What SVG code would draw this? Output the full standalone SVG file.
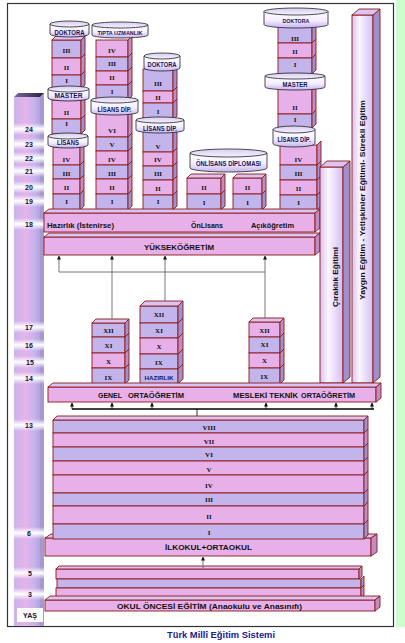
<svg xmlns="http://www.w3.org/2000/svg" width="405" height="643" viewBox="0 0 405 643">
<defs>
<linearGradient id="cg" x1="0" y1="0" x2="0" y2="1"><stop offset="0" stop-color="#ffffff"/><stop offset="0.55" stop-color="#f4eeff"/><stop offset="1" stop-color="#c6b2ee"/></linearGradient>
<linearGradient id="ctp" x1="0" y1="0" x2="0" y2="1"><stop offset="0" stop-color="#d8ccf2"/><stop offset="1" stop-color="#f6f2ff"/></linearGradient>
<linearGradient id="pg" x1="0" y1="0" x2="1" y2="0"><stop offset="0" stop-color="#d8c0f4"/><stop offset="0.35" stop-color="#fcf6ff"/><stop offset="1" stop-color="#d4bef2"/></linearGradient>
<linearGradient id="colg" x1="0" y1="0" x2="1" y2="0"><stop offset="0" stop-color="#c8b4ec"/><stop offset="0.45" stop-color="#e6b4ea"/><stop offset="0.8" stop-color="#c6b2ec"/><stop offset="1" stop-color="#b4a2dc"/></linearGradient>
<linearGradient id="coltop" x1="0" y1="0" x2="1" y2="0"><stop offset="0" stop-color="#7a6a9a"/><stop offset="1" stop-color="#2a2238"/></linearGradient>
<linearGradient id="glow" x1="0" y1="0" x2="0" y2="1"><stop offset="0" stop-color="#ffffff" stop-opacity="0"/><stop offset="0.5" stop-color="#ffffff" stop-opacity="1"/><stop offset="1" stop-color="#ffffff" stop-opacity="0"/></linearGradient>
<marker id="ah" markerWidth="4" markerHeight="4" refX="3.5" refY="2" orient="auto" markerUnits="userSpaceOnUse"><path d="M0,0 L4,2 L0,4 z" fill="#111"/></marker>
<style>
.l{fill:#c4b4ec;stroke:#8b1a1a;stroke-width:0.9}
.p{fill:#e8b0e8;stroke:#8b1a1a;stroke-width:0.9}
.sl{fill:#a290cc;stroke:#8b1a1a;stroke-width:0.9}
.sp{fill:#c08cc4;stroke:#8b1a1a;stroke-width:0.9}
.t{fill:#dcc4f2;stroke:#8b1a1a;stroke-width:0.9}
.pf{fill:url(#pg);stroke:#8b1a1a;stroke-width:0.9}
.cy{fill:url(#cg);stroke:#222;stroke-width:0.8}
.cyt{fill:url(#ctp);stroke:#222;stroke-width:0.8}
.ct{font-family:"Liberation Sans",Arial,sans-serif;font-weight:bold;fill:#14145a;text-anchor:middle}
.r{font-family:"Liberation Serif","Times New Roman",serif;font-weight:bold;font-size:7px;text-anchor:middle;fill:#111}
.b{font-family:"Liberation Sans",Arial,sans-serif;font-weight:bold;font-size:8px;fill:#111}
.m{text-anchor:middle}
.age{font-family:"Liberation Sans",Arial,sans-serif;font-weight:bold;font-size:7px;fill:#101030;text-anchor:middle}
.cn{fill:none;stroke:#555;stroke-width:0.8}
.ck{fill:none;stroke:#000;stroke-width:0.8}
</style>
</defs>
<rect x="396" y="0" width="9" height="627" fill="#ccffcc"/>
<rect x="7.5" y="3.5" width="386" height="623" fill="#ffffff" stroke="#333" stroke-width="1.2"/>

<g id="age-column">
<rect x="14" y="97" width="26" height="529" fill="url(#colg)"/>
<path d="M40,97 l4,-4 v533 h-4 z" fill="#a898d0"/>
<path d="M14,97 l4,-4 h26 l-4,4 z" fill="url(#coltop)"/>
<rect x="14" y="123" width="30" height="12" fill="url(#glow)"/>
<rect x="14" y="138" width="30" height="12" fill="url(#glow)"/>
<rect x="14" y="152" width="30" height="12" fill="url(#glow)"/>
<rect x="14" y="165" width="30" height="12" fill="url(#glow)"/>
<rect x="14" y="181" width="30" height="12" fill="url(#glow)"/>
<rect x="14" y="195" width="30" height="12" fill="url(#glow)"/>
<rect x="14" y="218" width="30" height="12" fill="url(#glow)"/>
<rect x="14" y="321" width="30" height="12" fill="url(#glow)"/>
<rect x="14" y="339" width="30" height="12" fill="url(#glow)"/>
<rect x="14" y="356" width="30" height="12" fill="url(#glow)"/>
<rect x="14" y="372" width="30" height="12" fill="url(#glow)"/>
<rect x="14" y="419" width="30" height="12" fill="url(#glow)"/>
<rect x="14" y="527" width="30" height="12" fill="url(#glow)"/>
<rect x="14" y="567" width="30" height="12" fill="url(#glow)"/>
<rect x="14" y="588" width="30" height="12" fill="url(#glow)"/>
<rect x="17" y="608" width="26" height="14" fill="#ffffff"/>
<text class="age" x="29" y="131.5">24</text>
<text class="age" x="29" y="146.5">23</text>
<text class="age" x="29" y="160.5">22</text>
<text class="age" x="29" y="173.5">21</text>
<text class="age" x="29" y="189.5">20</text>
<text class="age" x="29" y="203.5">19</text>
<text class="age" x="29" y="226.5">18</text>
<text class="age" x="29" y="329.5">17</text>
<text class="age" x="29" y="347.5">16</text>
<text class="age" x="30" y="364.5">15</text>
<text class="age" x="29" y="380.5">14</text>
<text class="age" x="29" y="427.5">13</text>
<text class="age" x="29" y="535.5">6</text>
<text class="age" x="30" y="575.5">5</text>
<text class="age" x="30" y="596.5">3</text>
<text class="age" x="30" y="618">YAŞ</text>
</g>

<g id="col1-stack">
<rect class="l" x="52" y="40" width="29" height="18"/><path class="sl" d="M81,40 l4,-4 v18 l-4,4 z"/>
<rect class="p" x="52" y="58" width="29" height="17"/><path class="sp" d="M81,58 l4,-4 v17 l-4,4 z"/>
<rect class="l" x="52" y="75" width="29" height="14"/><path class="sl" d="M81,75 l4,-4 v14 l-4,4 z"/>
<path class="t" d="M52,40 l4,-4 h29 l-4,4 z"/>
<rect class="p" x="52" y="100" width="29" height="19"/><path class="sp" d="M81,100 l4,-4 v19 l-4,4 z"/>
<rect class="l" x="52" y="119" width="29" height="15"/><path class="sl" d="M81,119 l4,-4 v15 l-4,4 z"/>
<rect class="p" x="53" y="147" width="27" height="18"/><path class="sp" d="M80,147 l4,-4 v18 l-4,4 z"/>
<rect class="l" x="53" y="165" width="27" height="14"/><path class="sl" d="M80,165 l4,-4 v14 l-4,4 z"/>
<rect class="p" x="53" y="179" width="27" height="15"/><path class="sp" d="M80,179 l4,-4 v15 l-4,4 z"/>
<rect class="l" x="53" y="194" width="27" height="16"/><path class="sl" d="M80,194 l4,-4 v16 l-4,4 z"/>
<text class="r" x="66.5" y="52.5">III</text><text class="r" x="66.5" y="69.5">II</text><text class="r" x="66.5" y="83">I</text>
<text class="r" x="66.5" y="114.5">II</text><text class="r" x="66.5" y="125.5">I</text>
<text class="r" x="66.5" y="161.5">IV</text><text class="r" x="66.5" y="175.5">III</text><text class="r" x="66.5" y="189.5">II</text><text class="r" x="66.5" y="203.5">I</text>
</g>

<g id="col2-stack">
<rect class="p" x="96" y="40" width="32" height="17"/><path class="sp" d="M128,40 l4,-4 v17 l-4,4 z"/>
<rect class="l" x="96" y="57" width="32" height="14"/><path class="sl" d="M128,57 l4,-4 v14 l-4,4 z"/>
<rect class="p" x="96" y="71" width="32" height="14"/><path class="sp" d="M128,71 l4,-4 v14 l-4,4 z"/>
<rect class="l" x="96" y="85" width="32" height="15"/><path class="sl" d="M128,85 l4,-4 v15 l-4,4 z"/>
<rect class="p" x="96" y="113" width="32" height="24"/><path class="sp" d="M128,113 l4,-4 v24 l-4,4 z"/>
<rect class="l" x="96" y="137" width="32" height="14"/><path class="sl" d="M128,137 l4,-4 v14 l-4,4 z"/>
<rect class="p" x="96" y="151" width="32" height="14"/><path class="sp" d="M128,151 l4,-4 v14 l-4,4 z"/>
<rect class="l" x="96" y="165" width="32" height="14"/><path class="sl" d="M128,165 l4,-4 v14 l-4,4 z"/>
<rect class="p" x="96" y="179" width="32" height="15"/><path class="sp" d="M128,179 l4,-4 v15 l-4,4 z"/>
<rect class="l" x="96" y="194" width="32" height="16"/><path class="sl" d="M128,194 l4,-4 v16 l-4,4 z"/>
<text class="r" x="112" y="52.5">IV</text><text class="r" x="112" y="65.5">III</text><text class="r" x="112" y="79.5">II</text><text class="r" x="112" y="93.5">I</text>
<text class="r" x="112" y="132.5">VI</text><text class="r" x="112" y="146.5">V</text><text class="r" x="112" y="161.5">IV</text><text class="r" x="112" y="175.5">III</text><text class="r" x="112" y="189.5">II</text><text class="r" x="112" y="203.5">I</text>
</g>

<g id="col3-stack">
<rect class="l" x="143" y="69" width="30" height="22"/><path class="sl" d="M173,69 l4,-4 v22 l-4,4 z"/>
<rect class="p" x="143" y="91" width="30" height="12"/><path class="sp" d="M173,91 l4,-4 v12 l-4,4 z"/>
<rect class="l" x="143" y="103" width="30" height="17"/><path class="sl" d="M173,103 l4,-4 v17 l-4,4 z"/>
<rect class="l" x="143" y="131" width="30" height="21"/><path class="sl" d="M173,131 l4,-4 v21 l-4,4 z"/>
<rect class="p" x="143" y="152" width="30" height="14"/><path class="sp" d="M173,152 l4,-4 v14 l-4,4 z"/>
<rect class="l" x="143" y="166" width="30" height="14"/><path class="sl" d="M173,166 l4,-4 v14 l-4,4 z"/>
<rect class="p" x="143" y="180" width="30" height="15"/><path class="sp" d="M173,180 l4,-4 v15 l-4,4 z"/>
<rect class="l" x="143" y="195" width="30" height="15"/><path class="sl" d="M173,195 l4,-4 v15 l-4,4 z"/>
<text class="r" x="158" y="85.5">III</text><text class="r" x="158" y="99.5">II</text><text class="r" x="158" y="113.5">I</text>
<text class="r" x="158" y="148.5">V</text><text class="r" x="158" y="161.5">IV</text><text class="r" x="158" y="175.5">III</text><text class="r" x="158" y="190.5">II</text><text class="r" x="158" y="203.5">I</text>
</g>

<g id="col4-stack">
<rect class="p" x="187" y="178" width="34" height="16"/><path class="sp" d="M221,178 l4,-4 v16 l-4,4 z"/>
<rect class="l" x="187" y="194" width="34" height="16"/><path class="sl" d="M221,194 l4,-4 v16 l-4,4 z"/>
<path class="t" d="M187,178 l4,-4 h34 l-4,4 z"/>
<text class="r" x="204" y="189.5">II</text><text class="r" x="204" y="204.5">I</text>
</g>
<g id="col5-stack">
<rect class="p" x="233" y="178" width="29" height="16"/><path class="sp" d="M262,178 l4,-4 v16 l-4,4 z"/>
<rect class="l" x="233" y="194" width="29" height="16"/><path class="sl" d="M262,194 l4,-4 v16 l-4,4 z"/>
<path class="t" d="M233,178 l4,-4 h29 l-4,4 z"/>
<text class="r" x="247.5" y="189.5">II</text><text class="r" x="247.5" y="204.5">I</text>
</g>

<g id="col6-stack">
<rect class="l" x="278" y="26" width="34" height="17"/><path class="sl" d="M312,26 l4,-4 v17 l-4,4 z"/>
<rect class="p" x="278" y="43" width="34" height="15"/><path class="sp" d="M312,43 l4,-4 v15 l-4,4 z"/>
<rect class="l" x="278" y="58" width="34" height="16"/><path class="sl" d="M312,58 l4,-4 v16 l-4,4 z"/>
<rect class="p" x="278" y="88" width="34" height="26"/><path class="sp" d="M312,88 l4,-4 v26 l-4,4 z"/>
<rect class="l" x="278" y="114" width="34" height="14"/><path class="sl" d="M312,114 l4,-4 v14 l-4,4 z"/>
<rect class="p" x="280" y="145" width="37" height="20"/><path class="sp" d="M317,145 l4,-4 v20 l-4,4 z"/>
<rect class="l" x="280" y="165" width="37" height="15"/><path class="sl" d="M317,165 l4,-4 v15 l-4,4 z"/>
<rect class="p" x="280" y="180" width="37" height="15"/><path class="sp" d="M317,180 l4,-4 v15 l-4,4 z"/>
<rect class="l" x="280" y="195" width="37" height="15"/><path class="sl" d="M317,195 l4,-4 v15 l-4,4 z"/>
<text class="r" x="295" y="40.5">III</text><text class="r" x="295" y="53.5">II</text><text class="r" x="295" y="66.5">I</text>
<text class="r" x="295" y="109.5">II</text><text class="r" x="295" y="121.5">I</text>
<text class="r" x="298.5" y="161.5">IV</text><text class="r" x="298.5" y="175.5">III</text><text class="r" x="298.5" y="190.5">II</text><text class="r" x="298.5" y="204.5">I</text>
</g>

<g id="cylinders">
<g id="cyl-doktora-1"><path class="cy" d="M50,24 L50,34 A19.5,3 0 0 0 89,34 L89,24 Z"/><ellipse class="cyt" cx="69.5" cy="24" rx="19.5" ry="3"/><text class="ct" x="69.5" y="35" font-size="7.5" textLength="30" lengthAdjust="spacingAndGlyphs">DOKTORA</text></g>
<g id="cyl-tipta"><path class="cy" d="M92,25 L92,35 A28,3 0 0 0 148,35 L148,25 Z"/><ellipse class="cyt" cx="120" cy="25" rx="28" ry="3"/><text class="ct" x="120" y="35" font-size="6" textLength="45" lengthAdjust="spacingAndGlyphs">TIPTA UZMANLIK</text></g>
<g id="cyl-master-1"><path class="cy" d="M48,89 L48,98 A20.5,3 0 0 0 89,98 L89,89 Z"/><ellipse class="cyt" cx="68.5" cy="89" rx="20.5" ry="3"/><text class="ct" x="68.5" y="98" font-size="8" textLength="28" lengthAdjust="spacingAndGlyphs">MASTER</text></g>
<g id="cyl-lisansdip-2"><path class="cy" d="M91,100 L91,112 A23.5,3 0 0 0 138,112 L138,100 Z"/><ellipse class="cyt" cx="114.5" cy="100" rx="23.5" ry="3"/><text class="ct" x="114.5" y="112" font-size="7" textLength="34" lengthAdjust="spacingAndGlyphs">LİSANS DİP.</text></g>
<g id="cyl-lisans-1"><path class="cy" d="M48,136 L48,145 A20,3 0 0 0 88,145 L88,136 Z"/><ellipse class="cyt" cx="68" cy="136" rx="20" ry="3"/><text class="ct" x="68" y="145" font-size="7" textLength="22" lengthAdjust="spacingAndGlyphs">LİSANS</text></g>
<g id="cyl-doktora-3"><path class="cy" d="M144,56 L144,68 A18,3 0 0 0 180,68 L180,56 Z"/><ellipse class="cyt" cx="162" cy="56" rx="18" ry="3"/><text class="ct" x="162" y="67" font-size="7" textLength="29" lengthAdjust="spacingAndGlyphs">DOKTORA</text></g>
<g id="cyl-lisansdip-3"><path class="cy" d="M136,120 L136,130 A24,3 0 0 0 184,130 L184,120 Z"/><ellipse class="cyt" cx="160" cy="120" rx="24" ry="3"/><text class="ct" x="160" y="131" font-size="7" textLength="34" lengthAdjust="spacingAndGlyphs">LİSANS DİP.</text></g>
<g id="cyl-onlisans"><path class="cy" d="M190,153 L190,168 A38.5,4 0 0 0 267,168 L267,153 Z"/><ellipse class="cyt" cx="228.5" cy="153" rx="38.5" ry="4"/><text class="ct" x="228.5" y="166" font-size="6.5" textLength="65" lengthAdjust="spacingAndGlyphs">ÖNLİSANS DİPLOMASI</text></g>
<g id="cyl-doktora-6"><path class="cy" d="M264,11.5 L264,24.5 A32,3.5 0 0 0 328,24.5 L328,11.5 Z"/><ellipse class="cyt" cx="296" cy="11.5" rx="32" ry="3.5"/><text class="ct" x="296" y="23" font-size="6" textLength="27" lengthAdjust="spacingAndGlyphs">DOKTORA</text></g>
<g id="cyl-master-6"><path class="cy" d="M265,76 L265,87 A30,3 0 0 0 325,87 L325,76 Z"/><ellipse class="cyt" cx="295" cy="76" rx="30" ry="3"/><text class="ct" x="295" y="87" font-size="6.5" textLength="25" lengthAdjust="spacingAndGlyphs">MASTER</text></g>
<g id="cyl-lisansdip-6"><path class="cy" d="M273,129.5 L273,143.5 A21,3.5 0 0 0 315,143.5 L315,129.5 Z"/><ellipse class="cyt" cx="294" cy="129.5" rx="21" ry="3.5"/><text class="ct" x="294" y="142" font-size="6.5" textLength="33" lengthAdjust="spacingAndGlyphs">LİSANS DİP.</text></g>
</g>

<g id="hazirlik-bar">
<rect class="p" x="44" y="213" width="271" height="19"/>
<path class="t" d="M44,213 l5,-4 h271 l-5,4 z"/><path class="sp" d="M315,213 l5,-4 v19 l-5,4 z"/>
<text class="b" x="47" y="228" textLength="67" lengthAdjust="spacingAndGlyphs">Hazırlık (İstenirse)</text>
<text class="b" x="191" y="228" textLength="32" lengthAdjust="spacingAndGlyphs">ÖnLisans</text>
<text class="b" x="251" y="228" textLength="43" lengthAdjust="spacingAndGlyphs">Açıköğretim</text>
</g>
<g id="yuksekogretim">
<rect class="p" x="44" y="237" width="271" height="18"/>
<path class="t" d="M44,237 l5,-4 h271 l-5,4 z"/><path class="sp" d="M315,237 l5,-4 v18 l-5,4 z"/>
<text class="b m" x="179" y="250" font-size="8.5" textLength="70" lengthAdjust="spacingAndGlyphs">YÜKSEKÖĞRETİM</text>
</g>

<g id="ciraklik">
<rect class="pf" x="320" y="167" width="23" height="216"/>
<path class="sl" d="M343,167 l7,-6 v216 l-7,6 z"/><path class="t" d="M320,167 l7,-6 h23 l-7,6 z"/>
<text class="b m" x="338" y="277" transform="rotate(-90 338 277)" textLength="60" lengthAdjust="spacingAndGlyphs">Çıraklık Eğitimi</text>
</g>
<g id="yaygin">
<rect class="pf" x="352" y="15" width="21" height="368"/>
<path class="sl" d="M373,15 l7,-6 v368 l-7,6 z"/><path class="t" d="M352,15 l7,-6 h21 l-7,6 z"/>
<text class="b m" x="365" y="200" transform="rotate(-90 365 200)" textLength="200" lengthAdjust="spacingAndGlyphs">Yaygın Eğitim - Yetişkinler Eğitimi- Sürekli Eğitim</text>
</g>

<g id="genel-stack">
<rect class="l" x="92" y="323" width="33" height="14"/><path class="sl" d="M125,323 l4,-4 v14 l-4,4 z"/>
<rect class="l" x="92" y="337" width="33" height="16"/><path class="sl" d="M125,337 l4,-4 v16 l-4,4 z"/>
<rect class="p" x="92" y="353" width="33" height="15"/><path class="sp" d="M125,353 l4,-4 v15 l-4,4 z"/>
<rect class="l" x="92" y="368" width="33" height="16"/><path class="sl" d="M125,368 l4,-4 v16 l-4,4 z"/>
<path class="t" d="M92,323 l4,-4 h33 l-4,4 z"/>
<text class="r" x="108.5" y="332.5" font-size="6.5">XII</text><text class="r" x="108.5" y="347.5" font-size="6.5">XI</text><text class="r" x="108.5" y="363.5" font-size="6.5">X</text><text class="r" x="108.5" y="379.5" font-size="6.5">IX</text>
</g>
<g id="hazirlik-stack">
<rect class="l" x="140" y="306" width="38" height="17"/><path class="sl" d="M178,306 l5,-5 v17 l-5,5 z"/>
<rect class="l" x="140" y="323" width="38" height="15"/><path class="sl" d="M178,323 l5,-5 v15 l-5,5 z"/>
<rect class="p" x="140" y="338" width="38" height="16"/><path class="sp" d="M178,338 l5,-5 v16 l-5,5 z"/>
<rect class="l" x="140" y="354" width="38" height="15"/><path class="sl" d="M178,354 l5,-5 v15 l-5,5 z"/>
<rect class="l" x="140" y="369" width="38" height="15"/><path class="sl" d="M178,369 l5,-5 v15 l-5,5 z"/>
<path class="t" d="M140,306 l5,-5 h38 l-5,5 z"/>
<text class="r" x="159" y="316.5" font-size="6.5">XII</text><text class="r" x="159" y="332.5" font-size="6.5">XI</text><text class="r" x="159" y="348.5" font-size="6.5">X</text><text class="r" x="159" y="364.5" font-size="6.5">IX</text>
<text class="ct" x="159" y="379.5" font-size="6" textLength="29" lengthAdjust="spacingAndGlyphs">HAZIRLIK</text>
</g>
<g id="mesleki-stack">
<rect class="p" x="249" y="322" width="31" height="15"/><path class="sp" d="M280,322 l4,-4 v15 l-4,4 z"/>
<rect class="l" x="249" y="337" width="31" height="16"/><path class="sl" d="M280,337 l4,-4 v16 l-4,4 z"/>
<rect class="p" x="249" y="353" width="31" height="15"/><path class="sp" d="M280,353 l4,-4 v15 l-4,4 z"/>
<rect class="l" x="249" y="368" width="31" height="16"/><path class="sl" d="M280,368 l4,-4 v16 l-4,4 z"/>
<path class="t" d="M249,322 l4,-4 h31 l-4,4 z"/>
<text class="r" x="264.5" y="332.5" font-size="6.5">XII</text><text class="r" x="264.5" y="346.5" font-size="6.5">XI</text><text class="r" x="264.5" y="362.5" font-size="6.5">X</text><text class="r" x="264.5" y="378.5" font-size="6.5">IX</text>
</g>

<g id="ortaogretim-bar">
<rect class="p" x="48" y="387" width="328" height="15"/>
<path class="t" d="M48,387 l5,-4 h328 l-5,4 z"/><path class="sp" d="M376,387 l5,-4 v15 l-5,4 z"/>
<text class="b" x="98" y="398" fill="#10105a" textLength="24" lengthAdjust="spacingAndGlyphs">GENEL</text>
<text class="b" x="128" y="398" fill="#10105a" textLength="56" lengthAdjust="spacingAndGlyphs">ORTAÖĞRETİM</text>
<text class="b" x="233" y="398" fill="#10105a" textLength="65" lengthAdjust="spacingAndGlyphs">MESLEKİ TEKNİK</text>
<text class="b" x="301" y="398" fill="#10105a" textLength="54" lengthAdjust="spacingAndGlyphs">ORTAÖĞRETİM</text>
</g>

<g id="ilkokul-ortaokul">
<rect class="p" x="45" y="538" width="326" height="18"/>
<path class="t" d="M45,538 l6,-4 h326 l-6,4 z"/><path class="sp" d="M371,538 l6,-4 v18 l-6,4 z"/>
<text class="b m" x="208.5" y="550" textLength="87" lengthAdjust="spacingAndGlyphs">İLKOKUL+ORTAOKUL</text>
</g>

<g id="primary-grades">
<rect class="l" x="53" y="420" width="311" height="13"/><path class="sl" d="M364,420 l4,-4 v13 l-4,4 z"/>
<rect class="p" x="53" y="433" width="311" height="14"/><path class="sp" d="M364,433 l4,-4 v14 l-4,4 z"/>
<rect class="l" x="53" y="447" width="311" height="14"/><path class="sl" d="M364,447 l4,-4 v14 l-4,4 z"/>
<rect class="p" x="53" y="461" width="311" height="14"/><path class="sp" d="M364,461 l4,-4 v14 l-4,4 z"/>
<rect class="p" x="53" y="475" width="311" height="18"/><path class="sp" d="M364,475 l4,-4 v18 l-4,4 z"/>
<rect class="l" x="53" y="493" width="311" height="13"/><path class="sl" d="M364,493 l4,-4 v13 l-4,4 z"/>
<rect class="p" x="53" y="506" width="311" height="18"/><path class="sp" d="M364,506 l4,-4 v18 l-4,4 z"/>
<rect class="l" x="53" y="524" width="311" height="15"/><path class="sl" d="M364,524 l4,-4 v15 l-4,4 z"/>
<path class="t" d="M53,420 l4,-4 h311 l-4,4 z"/>
<text class="r" x="209" y="429.5" font-size="7.5">VIII</text><text class="r" x="209" y="443.5" font-size="7.5">VII</text><text class="r" x="209" y="456.5" font-size="7.5">VI</text><text class="r" x="209" y="471.5" font-size="7.5">V</text>
<text class="r" x="209" y="487.5" font-size="7.5">IV</text><text class="r" x="209" y="501.5" font-size="7.5">III</text><text class="r" x="209" y="518.5" font-size="7.5">II</text><text class="r" x="209" y="534.5" font-size="7.5">I</text>
</g>

<g id="okul-oncesi">
<rect class="p" x="56" y="569" width="303" height="10"/><path class="t" d="M56,569 l3,-3 h303 l-3,3 z"/><path class="sp" d="M359,569 l3,-3 v10 l-3,3 z"/>
<rect class="l" x="57" y="579" width="304" height="9"/><path class="sl" d="M361,579 l3,-3 v9 l-3,3 z"/>
<rect class="p" x="56" y="588" width="305" height="10"/><path class="sp" d="M361,588 l3,-3 v10 l-3,3 z"/>
<rect class="p" x="45" y="600" width="330" height="11"/>
<path class="t" d="M45,600 l5,-4 h330 l-5,4 z"/><path class="sp" d="M375,600 l5,-4 v11 l-5,4 z"/>
<text class="b m" x="209.5" y="609" font-size="7.5" textLength="185" lengthAdjust="spacingAndGlyphs">OKUL ÖNCESİ EĞİTİM (Anaokulu ve Anasınıfı)</text>
</g>

<g id="connectors">
<path class="cn" d="M59,272 H265"/>
<path class="cn" d="M59,272 V256" marker-end="url(#ah)"/>
<path class="cn" d="M112,319 V256" marker-end="url(#ah)"/>
<path class="cn" d="M165,301 V256" marker-end="url(#ah)"/>
<path class="cn" d="M265,318 V256" marker-end="url(#ah)"/>
<path d="M72,409 H374" stroke="#000" stroke-width="1.6" fill="none"/>
<path class="ck" d="M72,409 V403" marker-end="url(#ah)"/>
<path class="ck" d="M112,409 V403" marker-end="url(#ah)"/>
<path class="ck" d="M152,409 V403" marker-end="url(#ah)"/>
<path class="ck" d="M266,409 V403" marker-end="url(#ah)"/>
<path class="ck" d="M336,409 V403" marker-end="url(#ah)"/>
<path class="ck" d="M372,409 V403" marker-end="url(#ah)"/>
<path class="ck" d="M197,416 V409"/>
<path class="cn" d="M203,568 V557" marker-end="url(#ah)"/>
</g>

<text x="221" y="638" font-family="Liberation Sans, Arial, sans-serif" font-weight="bold" font-size="9" fill="#202090" text-anchor="middle" textLength="108" lengthAdjust="spacingAndGlyphs">Türk Millî Eğitim Sistemi</text>
</svg>
